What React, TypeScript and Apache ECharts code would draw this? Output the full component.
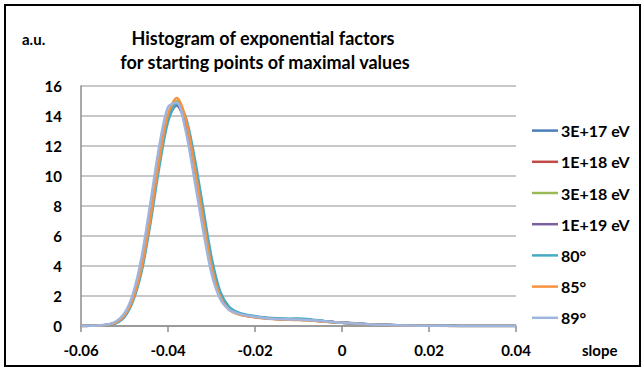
import React, { useEffect, useRef } from "react";
import * as echarts from "echarts";

// slope bins (step 0.002) from -0.06 to 0.04
const slopes: number[] = [
  -0.06, -0.058, -0.056, -0.054, -0.052, -0.05, -0.048, -0.046, -0.044, -0.042,
  -0.04, -0.038, -0.036, -0.034, -0.032, -0.03, -0.028, -0.026, -0.024, -0.022,
  -0.02, -0.018, -0.016, -0.014, -0.012, -0.01, -0.008, -0.006, -0.004, -0.002,
  0, 0.002, 0.004, 0.006, 0.008, 0.01, 0.012, 0.014, 0.016, 0.018,
  0.02, 0.022, 0.024, 0.026, 0.028, 0.03, 0.032, 0.034, 0.036, 0.038, 0.04,
];

const seriesNames = ["3E+17 eV", "1E+18 eV", "3E+18 eV", "1E+19 eV", "80°", "85°", "89°"];
const seriesColors = ["#4A7EBB", "#BE4B48", "#98B954", "#7D60A0", "#46AAC5", "#F69240", "#9DB5DF"];

const e17: number[] = [
  0, 0.01, 0.03, 0.08, 0.25, 0.75, 1.95, 4.2, 7.5, 11.2,
  14.0, 14.9, 13.6, 10.7, 7.2, 4.0, 2.0, 1.15, 0.85, 0.7,
  0.62, 0.55, 0.5, 0.47, 0.45, 0.45, 0.42, 0.37, 0.32, 0.27,
  0.23, 0.2, 0.16, 0.12, 0.1, 0.08, 0.06, 0.04, 0.03, 0.02,
  0.02, 0.01, 0.01, 0.01, 0, 0, 0, 0, 0, 0, 0,
];
const e18a: number[] = [
  0, 0.01, 0.03, 0.07, 0.22, 0.7, 1.85, 4.0, 7.3, 11.0,
  13.9, 14.9, 13.8, 10.9, 7.4, 4.1, 2.05, 1.15, 0.83, 0.68,
  0.6, 0.53, 0.48, 0.45, 0.43, 0.42, 0.4, 0.35, 0.3, 0.26,
  0.22, 0.19, 0.15, 0.11, 0.09, 0.07, 0.05, 0.04, 0.03, 0.02,
  0.01, 0.01, 0.01, 0, 0, 0, 0, 0, 0, 0, 0,
];
const e18b: number[] = [
  0, 0.01, 0.03, 0.07, 0.23, 0.72, 1.9, 4.1, 7.4, 11.1,
  14.0, 15.0, 13.8, 10.8, 7.3, 4.0, 2.0, 1.12, 0.82, 0.68,
  0.6, 0.53, 0.48, 0.45, 0.43, 0.42, 0.4, 0.35, 0.3, 0.25,
  0.21, 0.18, 0.14, 0.11, 0.09, 0.07, 0.05, 0.04, 0.03, 0.02,
  0.01, 0.01, 0.01, 0, 0, 0, 0, 0, 0, 0, 0,
];
const e19: number[] = [
  0, 0.01, 0.02, 0.06, 0.2, 0.65, 1.8, 3.9, 7.2, 10.9,
  13.8, 14.7, 13.5, 10.6, 7.1, 3.9, 1.95, 1.15, 0.86, 0.72,
  0.63, 0.55, 0.5, 0.47, 0.45, 0.44, 0.41, 0.36, 0.31, 0.26,
  0.22, 0.19, 0.15, 0.12, 0.09, 0.07, 0.05, 0.04, 0.03, 0.02,
  0.01, 0.01, 0.01, 0, 0, 0, 0, 0, 0, 0, 0,
];
const deg80: number[] = [
  0, 0.01, 0.02, 0.06, 0.18, 0.6, 1.7, 3.7, 6.9, 10.6,
  13.6, 14.8, 14.0, 11.4, 8.0, 4.6, 2.3, 1.3, 0.92, 0.75,
  0.66, 0.58, 0.53, 0.5, 0.49, 0.5, 0.47, 0.4, 0.33, 0.27,
  0.22, 0.18, 0.14, 0.11, 0.08, 0.06, 0.05, 0.04, 0.03, 0.02,
  0.02, 0.01, 0.01, 0.01, 0, 0, 0, 0, 0, 0, 0,
];
const deg85: number[] = [
  0, 0.01, 0.03, 0.07, 0.22, 0.7, 1.85, 4.0, 7.3, 11.1,
  14.1, 15.2, 13.9, 10.8, 7.3, 4.0, 1.95, 1.1, 0.8, 0.66,
  0.58, 0.51, 0.46, 0.43, 0.41, 0.4, 0.38, 0.34, 0.29, 0.25,
  0.21, 0.18, 0.14, 0.11, 0.08, 0.06, 0.05, 0.03, 0.02, 0.02,
  0.01, 0.01, 0, 0, 0, 0, 0, 0, 0, 0, 0,
];
const deg89: number[] = [
  0, 0.01, 0.04, 0.1, 0.3, 0.85, 2.2, 4.7, 8.3, 12.0,
  14.6, 14.9, 13.1, 9.9, 6.5, 3.5, 1.8, 1.1, 0.84, 0.7,
  0.61, 0.54, 0.49, 0.46, 0.44, 0.43, 0.4, 0.36, 0.31, 0.26,
  0.22, 0.19, 0.15, 0.12, 0.09, 0.07, 0.05, 0.04, 0.03, 0.02,
  0.01, 0.01, 0.01, 0, 0, 0, 0, 0, 0, 0, 0,
];

const seriesValues = [e17, e18a, e18b, e19, deg80, deg85, deg89];

const FONT = "Lato";

export default function App() {
  const ref = useRef<HTMLDivElement>(null);

  useEffect(() => {
    document.body.style.margin = "0";
    if (!ref.current) return;
    const chart = echarts.init(ref.current, undefined, { renderer: "svg" });

    const series = seriesNames.map((name, i) => ({
      name,
      type: "line" as const,
      smooth: 0.3,
      symbol: "none",
      showSymbol: false,
      color: seriesColors[i],
      itemStyle: { color: seriesColors[i] },
      lineStyle: { width: 2.5, color: seriesColors[i] },
      data: slopes.map((x, j) => [x, seriesValues[i][j]]),
    }));

    chart.setOption({
      animation: false,
      backgroundColor: "#ffffff",
      textStyle: { fontFamily: FONT },
      grid: { left: 81, top: 86, width: 435, height: 240, containLabel: false },
      xAxis: {
        type: "value",
        min: -0.06,
        max: 0.04,
        interval: 0.02,
        axisLine: { show: true, onZero: false, lineStyle: { color: "#8C8C8C", width: 1.5 } },
        axisTick: { show: true, length: 6, lineStyle: { color: "#8C8C8C", width: 1.5 } },
        splitLine: { show: false },
        axisLabel: {
          margin: 16,
          color: "#000000",
          fontSize: 15,
          fontWeight: "bold",
          fontFamily: FONT,
          formatter: (v: number) => String(Number(v.toFixed(2))),
        },
      },
      yAxis: {
        type: "value",
        min: 0,
        max: 16,
        interval: 2,
        axisLine: { show: true, onZero: false, lineStyle: { color: "#8C8C8C", width: 1.5 } },
        axisTick: { show: false },
        splitLine: { show: true, lineStyle: { color: "#B4B4B4", width: 1.5 } },
        axisLabel: {
          margin: 19,
          color: "#000000",
          fontSize: 15,
          fontWeight: "bold",
          fontFamily: FONT,
        },
      },
      legend: {
        orient: "vertical",
        left: 532,
        top: 122,
        padding: 0,
        icon: "rect",
        itemWidth: 26,
        itemHeight: 2.5,
        itemGap: 14,
        data: seriesNames,
        textStyle: {
          color: "#000000",
          fontSize: 16,
          fontWeight: "bold",
          fontFamily: FONT,
          lineHeight: 17.2,
          padding: [0, 0, 0, -2],
        },
      },
      graphic: [
        {
          type: "rect",
          shape: { x: 5, y: 5, width: 635, height: 361 },
          style: { fill: "none", stroke: "#000000", lineWidth: 2 },
          silent: true,
        },
        {
          type: "text",
          x: 263,
          y: 38,
          style: {
            text: "Histogram of exponential factors",
            font: `bold 18px ${FONT}`,
            fill: "#000000",
            align: "center",
            verticalAlign: "middle",
          },
        },
        {
          type: "text",
          x: 265,
          y: 62,
          style: {
            text: "for starting points of maximal values",
            font: `bold 18px ${FONT}`,
            fill: "#000000",
            align: "center",
            verticalAlign: "middle",
          },
        },
        {
          type: "text",
          x: 22,
          y: 39,
          style: {
            text: "a.u.",
            font: `bold 15px ${FONT}`,
            fill: "#000000",
            align: "left",
            verticalAlign: "middle",
          },
        },
        {
          type: "text",
          x: 582,
          y: 350,
          style: {
            text: "slope",
            font: `bold 15px ${FONT}`,
            fill: "#000000",
            align: "left",
            verticalAlign: "middle",
          },
        },
      ],
      series,
    });

    return () => chart.dispose();
  }, []);

  return <div ref={ref} style={{ width: 644, height: 369 }} />;
}
